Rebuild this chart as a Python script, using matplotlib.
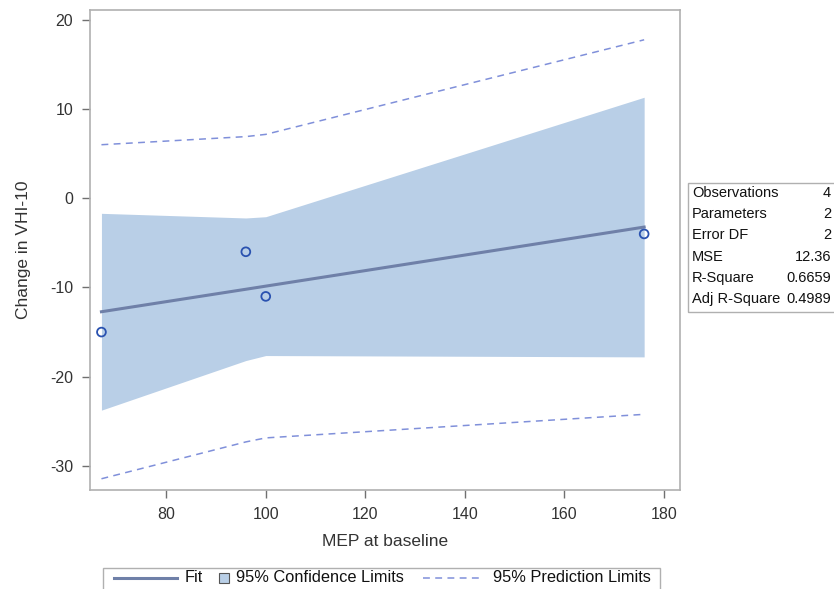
import matplotlib.pyplot as plt
from matplotlib.patches import Rectangle
from matplotlib.lines import Line2D

plt.rcParams["font.family"] = ["Liberation Sans", "DejaVu Sans"]
plt.rcParams["axes.unicode_minus"] = False

# observed data
mep = [67, 96, 100, 176]
vhi_change = [-15, -6, -11, -4]

# fitted values and limits at each observed x
fit = [-12.72, -10.20, -9.85, -3.23]
clm_lower = [-23.75, -18.19, -17.63, -17.78]
clm_upper = [-1.69, -2.21, -2.07, 11.32]
pred_lower = [-31.44, -27.31, -26.86, -24.22]
pred_upper = [6.00, 6.91, 7.16, 17.76]

stat_names = ["Observations", "Parameters", "Error DF", "MSE", "R-Square", "Adj R-Square"]
stat_values = ["4", "2", "2", "12.36", "0.6659", "0.4989"]

band_color = "#B9CFE7"
fit_color = "#6F80A8"
pred_color = "#8090DA"
marker_color = "#2A52B0"
frame_color = "#B0B0B0"
dash = (0, (4.5, 3.5))

W, H = 834, 589


def fx(px):
    return px / W


def fy(py):
    return 1 - py / H


fig = plt.figure(figsize=(W / 100, H / 100), dpi=100)
ax = fig.add_axes([fx(90), fy(490), fx(680) - fx(90), fy(10) - fy(490)])

ax.fill_between(mep, clm_lower, clm_upper, color=band_color, lw=0, zorder=1)
ax.plot(mep, fit, color=fit_color, lw=2.2, zorder=3)
ax.plot(mep, pred_upper, color=pred_color, lw=1.1, ls=dash, zorder=2)
ax.plot(mep, pred_lower, color=pred_color, lw=1.1, ls=dash, zorder=2)
ax.scatter(mep, vhi_change, s=40, facecolors="none", edgecolors=marker_color,
           linewidths=1.3, zorder=4)

ax.set_xlim(64.7, 183.2)
ax.set_ylim(-32.7, 21.1)
ax.set_xticks([80, 100, 120, 140, 160, 180])
ax.set_yticks([-30, -20, -10, 0, 10, 20])
for s in ax.spines.values():
    s.set_color(frame_color)
    s.set_linewidth(1.2)
ax.tick_params(direction="out", length=6, width=1, color="#707070",
               labelsize=11.5, labelcolor="#333333", pad=6)
ax.set_xlabel("MEP at baseline", fontsize=12.5, color="#333333", labelpad=9)
ax.set_ylabel("Change in VHI-10", fontsize=12.5, color="#333333", labelpad=14)

# fit statistics box on the right
fig.add_artist(Rectangle((fx(688), fy(312)), 0.3, fy(183) - fy(312),
                         transform=fig.transFigure, fill=False,
                         edgecolor=frame_color, lw=1.0))
for i, (name, val) in enumerate(zip(stat_names, stat_values)):
    yy = fy(193 + 21.2 * i)
    fig.text(fx(692), yy, name, fontsize=10.5, va="center", ha="left",
             color="#111111")
    fig.text(fx(831), yy, val, fontsize=10.5, va="center", ha="right",
             color="#111111")

# legend strip along the bottom
ly = fy(578)
fig.add_artist(Rectangle((fx(103), fy(600)), fx(660) - fx(103), fy(568) - fy(600),
                         transform=fig.transFigure, fill=False,
                         edgecolor=frame_color, lw=1.0))
fig.add_artist(Line2D([fx(114), fx(177)], [ly, ly], color=fit_color, lw=2.2,
                      transform=fig.transFigure))
fig.text(fx(185), ly, "Fit", fontsize=11.8, va="center", color="#111111")
fig.add_artist(Rectangle((fx(219), fy(583)), fx(229) - fx(219), fy(573) - fy(583),
                         transform=fig.transFigure, facecolor=band_color,
                         edgecolor="#555555", lw=0.8))
fig.text(fx(236), ly, "95% Confidence Limits", fontsize=11.8, va="center",
         color="#111111")
fig.add_artist(Line2D([fx(423), fx(484)], [ly, ly], color=pred_color, lw=1.1,
                      ls=dash, transform=fig.transFigure))
fig.text(fx(493), ly, "95% Prediction Limits", fontsize=11.8, va="center",
         color="#111111")

fig.savefig("out.png", dpi=100)
